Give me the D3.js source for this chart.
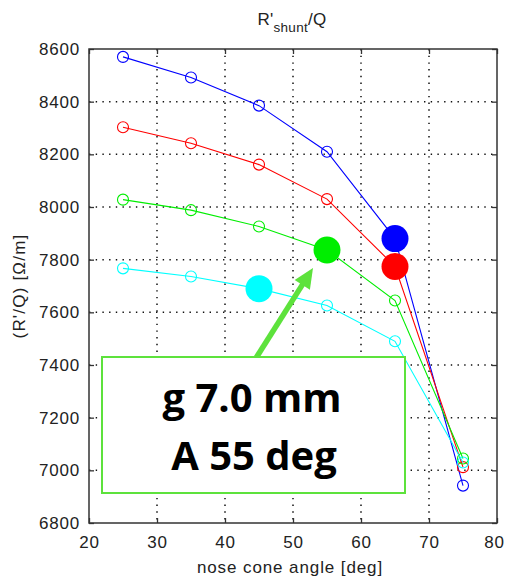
<!DOCTYPE html>
<html>
<head>
<meta charset="utf-8">
<script src="https://cdn.jsdelivr.net/npm/d3@7"></script>
<style>
  html, body { margin: 0; padding: 0; background: #fff; }
  svg { display: block; }
</style>
</head>
<body>
<script>
// Nose cone angles (deg)
const angles = [25, 35, 45, 55, 65, 75];

// R'/Q values (Ohm/m) for each gap setting
const blueValues  = [8570, 8492, 8385, 8210, 7880, 6942];
const redValues   = [8303, 8242, 8161, 8030, 7774, 7012];
const greenValues = [8028, 7988, 7926, 7837, 7645, 7045];
const cyanValues  = [7767, 7736, 7690, 7626, 7490, 7030];

// Highlighted (chosen) point per series: index into angles
const highlightIdx = [4, 4, 3, 2];

const xTicks = [20, 30, 40, 50, 60, 70, 80];
const yTicks = [6800, 7000, 7200, 7400, 7600, 7800, 8000, 8200, 8400, 8600];

const series = [
  { values: blueValues,  color: "#0000ff" },
  { values: redValues,   color: "#ff0000" },
  { values: greenValues, color: "#00ee00" },
  { values: cyanValues,  color: "#00ffff" }
];

const W = 506, H = 580;
const margin = { left: 89, top: 49, right: 9, bottom: 57 };
const innerW = W - margin.left - margin.right;
const innerH = H - margin.top - margin.bottom;

const svg = d3.select("body").append("svg").attr("width", W).attr("height", H);
const g = svg.append("g").attr("transform", `translate(${margin.left},${margin.top})`);

const x = d3.scaleLinear().domain([20, 80]).range([0, innerW]);
const y = d3.scaleLinear().domain([6800, 8600]).range([innerH, 0]);

const axisColor = "#333";
const tickFont = "Liberation Sans, Arial, sans-serif";

// Dotted grid
const gridStyle = sel => sel.attr("stroke", "#111").attr("stroke-width", 1.5)
  .attr("stroke-dasharray", "1.4,5.3");
g.append("g").selectAll("line").data(xTicks.slice(1, -1)).join("line")
  .attr("x1", d => x(d)).attr("x2", d => x(d))
  .attr("y1", 0).attr("y2", innerH).call(gridStyle);
g.append("g").selectAll("line").data(yTicks.slice(1, -1)).join("line")
  .attr("y1", d => y(d)).attr("y2", d => y(d))
  .attr("x1", 0).attr("x2", innerW).call(gridStyle);

// Axes with inward ticks
const xAxis = d3.axisBottom(x).tickValues(xTicks).tickSizeInner(-5).tickSizeOuter(0)
  .tickFormat(d3.format("d"));
const yAxis = d3.axisLeft(y).tickValues(yTicks).tickSizeInner(-5).tickSizeOuter(0).tickPadding(9)
  .tickFormat(d3.format("d"));
const xg = g.append("g").attr("transform", `translate(0,${innerH})`).call(xAxis);
const yg = g.append("g").call(yAxis);
// Mirrored ticks on top and right
g.append("g").call(d3.axisTop(x).tickValues(xTicks).tickSizeInner(-5).tickSizeOuter(0).tickFormat(""));
g.append("g").attr("transform", `translate(${innerW},0)`)
  .call(d3.axisRight(y).tickValues(yTicks).tickSizeInner(-5).tickSizeOuter(0).tickFormat(""));

svg.selectAll(".domain").remove();
svg.selectAll(".tick line").attr("stroke", axisColor).attr("stroke-width", 1.3);
[xg, yg].forEach(a => a.selectAll("text")
  .attr("font-family", tickFont).attr("font-size", 17).attr("letter-spacing", 0.8)
  .attr("fill", "#222"));
xg.selectAll("text").attr("y", 25).attr("dy", 0);
// keep the last x label inside the page edge
xg.selectAll("text").filter(d => d === 80).attr("dx", -3);

// Plot box
g.append("rect").attr("width", innerW).attr("height", innerH)
  .attr("fill", "none").attr("stroke", axisColor).attr("stroke-width", 1.5);

// Series lines and open circle markers
const line = d3.line().x((d, i) => x(angles[i])).y(d => y(d));
series.forEach(s => {
  g.append("path").datum(s.values).attr("d", line)
    .attr("fill", "none").attr("stroke", s.color).attr("stroke-width", 1.1);
  g.append("g").selectAll("circle").data(s.values).join("circle")
    .attr("cx", (d, i) => x(angles[i])).attr("cy", d => y(d)).attr("r", 5.5)
    .attr("fill", "none").attr("stroke", s.color).attr("stroke-width", 1.1);
});

// Highlighted design points
series.forEach((s, k) => {
  const i = highlightIdx[k];
  g.append("circle").attr("cx", x(angles[i])).attr("cy", y(s.values[i])).attr("r", 13.5)
    .attr("fill", s.color);
});

// Title
const title = svg.append("text").attr("x", 292).attr("y", 25)
  .attr("text-anchor", "middle").attr("font-family", tickFont)
  .attr("font-size", 17).attr("letter-spacing", 0.3).attr("fill", "#222");
title.append("tspan").text("R'");
title.append("tspan").attr("font-size", 13.5).attr("dy", 7).text("shunt");
title.append("tspan").attr("dy", -7).text("/Q");

// Axis labels
svg.append("text").attr("x", margin.left + innerW / 2 - 3).attr("y", 573)
  .attr("text-anchor", "middle").attr("font-family", tickFont)
  .attr("font-size", 17).attr("letter-spacing", 0.9).attr("fill", "#222")
  .text("nose cone angle [deg]");
svg.append("text")
  .attr("transform", `translate(25,${margin.top + innerH / 2}) rotate(-90)`)
  .attr("text-anchor", "middle").attr("font-family", tickFont)
  .attr("font-size", 17).attr("letter-spacing", 1.2).attr("fill", "#222")
  .text("(R'/Q) [Ω/m]");

// Annotation arrow pointing at the chosen point
const annoColor = "#5de23c";
const gi = highlightIdx[2];
const tx = margin.left + x(angles[gi]) - 14, ty = margin.top + y(greenValues[gi]) + 18;
const sx = 256, sy = 358;
const ang = Math.atan2(ty - sy, tx - sx);
const headLen = 20, headW = 9;
const bx = tx - headLen * Math.cos(ang), by = ty - headLen * Math.sin(ang);
svg.append("line").attr("x1", sx).attr("y1", sy).attr("x2", bx + 2 * Math.cos(ang)).attr("y2", by + 2 * Math.sin(ang))
  .attr("stroke", annoColor).attr("stroke-width", 5.5);
svg.append("path")
  .attr("d", `M${tx},${ty}L${bx - headW * Math.sin(ang)},${by + headW * Math.cos(ang)}L${bx + headW * Math.sin(ang)},${by - headW * Math.cos(ang)}Z`)
  .attr("fill", annoColor);

// Annotation box
svg.append("rect").attr("x", 102).attr("y", 357).attr("width", 303).attr("height", 136)
  .attr("fill", "#fff").attr("stroke", annoColor).attr("stroke-width", 2);
const boxFont = "Open Sans, Lato, sans-serif";
svg.append("text").attr("x", 252).attr("y", 412).attr("text-anchor", "middle")
  .attr("font-family", boxFont).attr("font-weight", "bold").attr("font-size", 40)
  .attr("fill", "#000").text("g 7.0 mm");
svg.append("text").attr("x", 254).attr("y", 470).attr("text-anchor", "middle")
  .attr("font-family", boxFont).attr("font-weight", "bold").attr("font-size", 40)
  .attr("fill", "#000").text("A 55 deg");
</script>
</body>
</html>
